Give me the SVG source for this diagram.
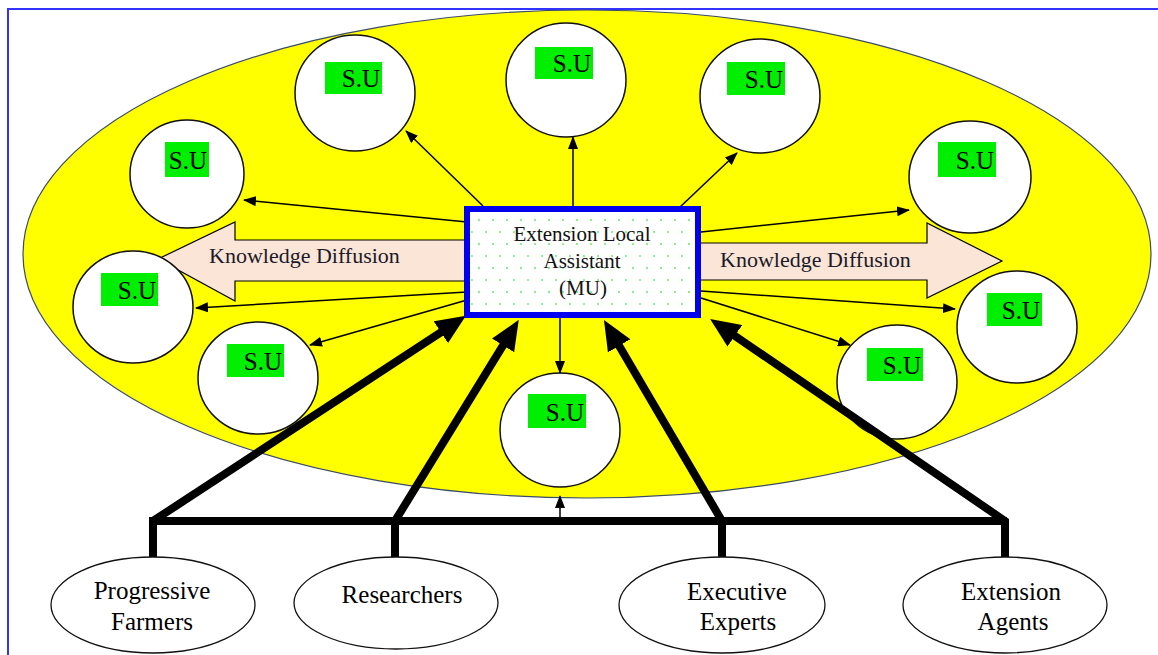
<svg xmlns="http://www.w3.org/2000/svg" width="1158" height="655" viewBox="0 0 1158 655">
<style>
.su{fill:#fff;stroke:#111;stroke-width:1.5}
.lbl{fill:#00ee00}
.sut{font-family:"Liberation Serif",serif;font-size:25px;fill:#000;text-anchor:end}
.thin{stroke:#000;stroke-width:1.5;fill:none;marker-end:url(#ah)}
.thick{stroke:#000;stroke-width:8;fill:none;stroke-linejoin:miter}
.thickA{stroke:#000;stroke-width:8;fill:none;marker-end:url(#bh)}
.kd{fill:#fbe5d6;stroke:#000;stroke-width:1.2}
.kdt{font-family:"Liberation Serif",serif;font-size:22px;fill:#1a1a2a}
.src{fill:#fff;stroke:#111;stroke-width:1.3}
.srct{font-family:"Liberation Serif",serif;font-size:25px;fill:#000;text-anchor:middle}
.mut{font-family:"Liberation Serif",serif;font-size:21px;fill:#111;text-anchor:middle}
</style>
<defs>
<marker id="ah" markerUnits="userSpaceOnUse" markerWidth="13" markerHeight="10" viewBox="0 0 13 10" refX="12" refY="5" orient="auto"><path d="M0,0 L13,5 L0,10 z" fill="#000"/></marker>
<marker id="bh" markerUnits="userSpaceOnUse" markerWidth="30" markerHeight="26" viewBox="0 0 30 26" refX="10" refY="13" orient="auto"><path d="M0,0 L30,13 L0,26 z" fill="#000"/></marker>
<pattern id="dots" patternUnits="userSpaceOnUse" width="14" height="24"><rect width="14" height="24" fill="#fff"/><circle cx="3" cy="4" r="1" fill="#66ee66"/><circle cx="10" cy="16" r="1" fill="#66ee66"/></pattern>
</defs>
<rect x="8" y="9" width="1170" height="670" fill="#fff" stroke="#3333ff" stroke-width="2"/>
<ellipse id="region" cx="587" cy="254" rx="564" ry="244" fill="#ffff00" stroke="#3a4a6a" stroke-width="1.2"/>
<g id="kd-left"><polygon class="kd" points="470,240 235,240 235,222 158,259 235,301 235,281 470,281"/><text class="kdt" x="209" y="263">Knowledge Diffusion</text></g>
<g id="kd-right"><polygon class="kd" points="698,243 927,243 927,223 1002,261 927,298 927,280 698,280"/><text class="kdt" x="720" y="267">Knowledge Diffusion</text></g>
<g id="su1"><ellipse class="su" cx="355" cy="93" rx="60" ry="58"/><rect class="lbl" x="325" y="62" width="57" height="32"/><text class="sut" x="380" y="87">S.U</text></g>
<g id="su2"><ellipse class="su" cx="566" cy="80" rx="60" ry="57"/><rect class="lbl" x="535" y="47" width="58" height="32"/><text class="sut" x="591" y="72">S.U</text></g>
<g id="su3"><ellipse class="su" cx="760" cy="96" rx="60" ry="57"/><rect class="lbl" x="727" y="62" width="58" height="33"/><text class="sut" x="783" y="88">S.U</text></g>
<g id="su4"><ellipse class="su" cx="187" cy="174" rx="57" ry="54"/><rect class="lbl" x="165" y="142" width="44" height="35"/><text class="sut" x="207" y="169">S.U</text></g>
<g id="su5"><ellipse class="su" cx="133" cy="307" rx="60" ry="56"/><rect class="lbl" x="101" y="273" width="57" height="33"/><text class="sut" x="156" y="299">S.U</text></g>
<g id="su6"><ellipse class="su" cx="258" cy="378" rx="60" ry="56"/><rect class="lbl" x="227" y="344" width="57" height="33"/><text class="sut" x="282" y="370">S.U</text></g>
<g id="su7"><ellipse class="su" cx="970" cy="177" rx="61" ry="56"/><rect class="lbl" x="938" y="142" width="58" height="35"/><text class="sut" x="994" y="169">S.U</text></g>
<g id="su8"><ellipse class="su" cx="1017" cy="327" rx="60" ry="56"/><rect class="lbl" x="987" y="293" width="55" height="33"/><text class="sut" x="1040" y="319">S.U</text></g>
<g id="su9"><ellipse class="su" cx="897" cy="382" rx="60" ry="57"/><rect class="lbl" x="867" y="348" width="56" height="33"/><text class="sut" x="921" y="374">S.U</text></g>
<g id="su10"><ellipse class="su" cx="560" cy="430" rx="60" ry="57"/><rect class="lbl" x="528" y="394" width="58" height="34"/><text class="sut" x="584" y="421">S.U</text></g>
<g id="connectors">
<line class="thin" x1="483" y1="206" x2="406" y2="131"/>
<line class="thin" x1="573" y1="206" x2="573" y2="137"/>
<line class="thin" x1="679" y1="208" x2="737" y2="153"/>
<line class="thin" x1="467" y1="222" x2="244" y2="200"/>
<line class="thin" x1="467" y1="292" x2="196" y2="308"/>
<line class="thin" x1="467" y1="300" x2="310" y2="345"/>
<line class="thin" x1="701" y1="232" x2="909" y2="210"/>
<line class="thin" x1="701" y1="291" x2="955" y2="309"/>
<line class="thin" x1="701" y1="298" x2="850" y2="345"/>
<line class="thin" x1="560" y1="318" x2="560" y2="373"/>
<line class="thin" x1="560" y1="521" x2="560" y2="496"/>
<path class="thick" d="M149,521 H1007"/>
<path class="thickA" d="M153,557 V521 L449.2,326.8"/>
<path class="thickA" d="M395,557 V521 L508.3,336.9"/>
<path class="thickA" d="M722,557 V521 L614.1,337.2"/>
<path class="thickA" d="M1005,557 V521 L726.6,330.2"/>
</g>
<g id="mu"><rect x="467" y="209" width="231" height="106" fill="url(#dots)" stroke="#0000ee" stroke-width="6"/><text class="mut" x="582" y="241">Extension Local</text><text class="mut" x="582" y="268">Assistant</text><text class="mut" x="583" y="295">(MU)</text></g>
<g id="farmers"><ellipse class="src" cx="153" cy="605" rx="102" ry="48"/><text class="srct" x="152" y="599">Progressive</text><text class="srct" x="152" y="630">Farmers</text></g>
<g id="researchers"><ellipse class="src" cx="396" cy="603" rx="102" ry="46"/><text class="srct" x="402" y="603">Researchers</text></g>
<g id="experts"><ellipse class="src" cx="722" cy="605" rx="103" ry="48"/><text class="srct" x="737" y="600">Executive</text><text class="srct" x="738" y="630">Experts</text></g>
<g id="agents"><ellipse class="src" cx="1005" cy="605" rx="102" ry="48"/><text class="srct" x="1011" y="600">Extension</text><text class="srct" x="1013" y="630">Agents</text></g>
</svg>
